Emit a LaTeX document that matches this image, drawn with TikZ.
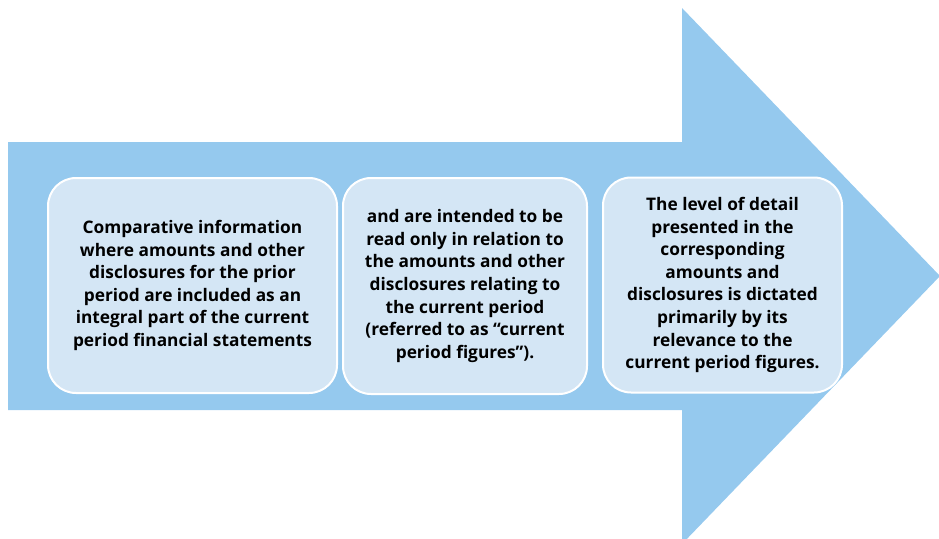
\documentclass[tikz,border=0pt]{standalone}
\usepackage{fontspec}
\setmainfont{Open Sans}
\definecolor{arrowblue}{RGB}{149,201,238}
\definecolor{boxblue}{RGB}{212,230,245}
\tikzset{
  infobox/.style={draw=white, line width=2pt, fill=boxblue, rounded corners=28pt,
    align=center, inner sep=0pt, text=black,
    font=\bfseries\fontsize{17.3}{22.6}\selectfont}
}
\begin{document}
\begin{tikzpicture}[x=1pt,y=-1pt]
\clip (0,0) rectangle (939,538);
\fill[arrowblue] (8,142) -- (682,142) -- (682,8) -- (940,276) -- (682,544) -- (682,410) -- (8,410) -- cycle;
\node[infobox, minimum width=289pt, minimum height=215pt] (b1) at (192.5,285.5)
  {Comparative information\\where amounts and other\\disclosures for the prior\\period are included as an\\integral part of the current\\period financial statements};
\node[infobox, minimum width=244pt, minimum height=216pt] (b2) at (465,286)
  {and are intended to be\\read only in relation to\\the amounts and other\\disclosures relating to\\the current period\\(referred to as “current\\period figures”).};
\node[infobox, minimum width=239pt, minimum height=215pt] (b3) at (722.5,285)
  {The level of detail\\presented in the\\corresponding\\amounts and\\disclosures is dictated\\primarily by its\\relevance to the\\current period figures.};
\end{tikzpicture}
\end{document}
